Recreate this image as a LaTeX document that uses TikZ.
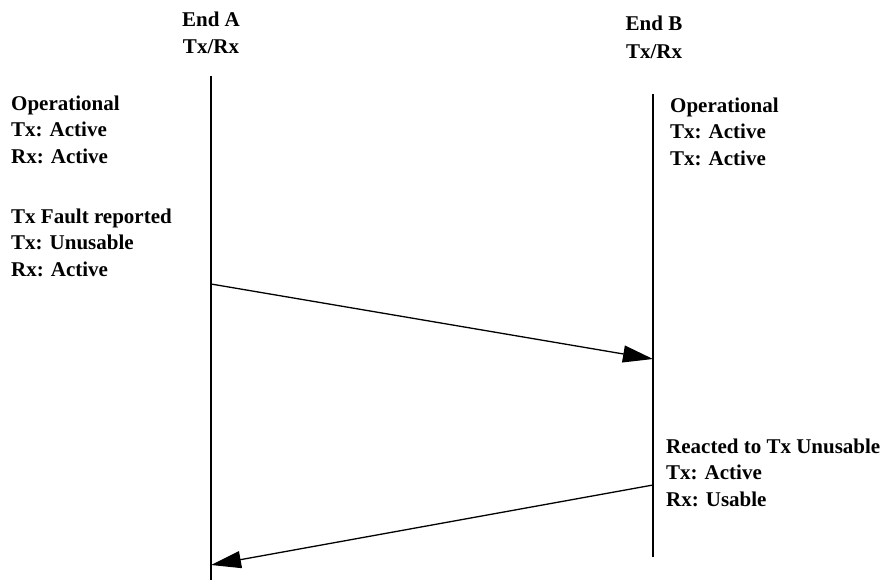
\documentclass[tikz,border=0pt]{standalone}
\usepackage{fontspec}
\setmainfont{Liberation Serif}
\usetikzlibrary{arrows.meta}
\begin{document}
\begin{tikzpicture}[x=1pt,y=-1pt,
  lbl/.style={inner sep=0pt, font=\fontsize{21}{26.5}\selectfont\bfseries, align=left, anchor=base west},
  hdr/.style={inner sep=0pt, font=\fontsize{21}{28}\selectfont\bfseries, align=center, anchor=base},
  life/.style={line width=1.3pt},
  msg/.style={line width=1.3pt, -{Triangle[length=30pt,width=17pt]}}]
\useasboundingbox (0,0) rectangle (886,586);
% lifelines
\coordinate (atop) at (211,76);
\coordinate (abot) at (211,580);
\coordinate (btop) at (653,94);
\coordinate (bbot) at (653,557);
\draw[life] (atop) -- (abot);
\draw[life] (btop) -- (bbot);
% headers (anchored at the baseline of the last line)
\node[hdr] (ha) at (211,54) {End A\\Tx/Rx};
\node[hdr] (hb) at (654,59) {End B\\Tx/Rx};
% labels (anchored at the baseline of the last line)
\node[lbl] (l1) at (11,163) {Operational\\Tx: Active\\Rx: Active};
\node[lbl] (l2) at (11,276) {Tx Fault reported\\Tx: Unusable\\Rx: Active};
\node[lbl] (r1) at (670,165) {Operational\\Tx: Active\\Tx: Active};
\node[lbl] (r2) at (666,506) {Reacted to Tx Unusable\\Tx: Active\\Rx: Usable};
% messages
\coordinate (m1s) at (211,284);
\coordinate (m1e) at (653,359);
\coordinate (m2s) at (653,485);
\coordinate (m2e) at (211,565);
\draw[msg] (m1s) -- (m1e);
\draw[msg] (m2s) -- (m2e);
\end{tikzpicture}
\end{document}
